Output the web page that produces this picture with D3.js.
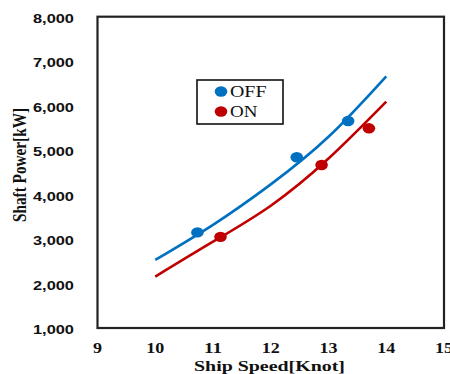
<!DOCTYPE html>
<html>
<head>
<meta charset="utf-8">
<script src="https://cdn.jsdelivr.net/npm/d3@7"></script>
<style>
  html, body { margin: 0; padding: 0; background: #fff; }
  svg { display: block; }
</style>
</head>
<body>
<script>
// Ship speed [knot] vs shaft power [kW], with the device OFF and ON

// fitted trend curves, sampled along the speed axis
const curveSpeed = [10, 11, 12, 13, 14];
const offCurvePower = [2530, 3320, 4230, 5300, 6660];
const onCurvePower  = [2155, 2940, 3750, 4810, 6090];

// measured points
const offSpeed = [10.73, 12.45, 13.34];
const offPower = [3150, 4840, 5655];
const onSpeed  = [11.13, 12.88, 13.70];
const onPower  = [3050, 4665, 5490];

// axis ticks
const xTicks = [9, 10, 11, 12, 13, 14, 15];
const yTicks = [1000, 2000, 3000, 4000, 5000, 6000, 7000, 8000];

const seriesNames = ["OFF", "ON"];
const seriesColors = ["#0070C0", "#C00000"];

const W = 450, H = 374;
const svg = d3.select("body").append("svg").attr("width", W).attr("height", H);

const x = d3.scaleLinear().domain([9, 15]).range([97.5, 444]);
const y = d3.scaleLinear().domain([1000, 8000]).range([328, 16.7]);

// y tick labels
const fmt = d3.format(",");
svg.append("g").selectAll("text").data(yTicks).join("text")
  .attr("x", 74).attr("y", d => y(d) + 1.5)
  .attr("dy", "0.36em")
  .attr("text-anchor", "end")
  .attr("font-family", "'Liberation Sans', Arial, sans-serif")
  .attr("font-weight", "bold").attr("font-size", 13)
  .attr("fill", "#111")
  .attr("textLength", 41).attr("lengthAdjust", "spacingAndGlyphs")
  .text(d => fmt(d));

// x tick labels
svg.append("g").selectAll("text").data(xTicks).join("text")
  .attr("x", d => x(d)).attr("y", 352.8)
  .attr("text-anchor", "middle")
  .attr("font-family", "'Liberation Serif', 'Times New Roman', serif")
  .attr("font-weight", "bold").attr("font-size", 14)
  .attr("fill", "#111")
  .attr("textLength", d => String(d).length * 9).attr("lengthAdjust", "spacingAndGlyphs")
  .text(d => d);

// axis titles
svg.append("text")
  .attr("x", 269.5).attr("y", 371)
  .attr("text-anchor", "middle")
  .attr("font-family", "'Liberation Serif', 'Times New Roman', serif")
  .attr("font-weight", "bold").attr("font-size", 14)
  .attr("fill", "#111")
  .attr("textLength", 151).attr("lengthAdjust", "spacingAndGlyphs")
  .text("Ship Speed[Knot]");

svg.append("text")
  .attr("transform", "translate(26,165) rotate(-90)")
  .attr("text-anchor", "middle")
  .attr("font-family", "'Liberation Serif', 'Times New Roman', serif")
  .attr("font-weight", "bold").attr("font-size", 18)
  .attr("fill", "#111")
  .attr("textLength", 114).attr("lengthAdjust", "spacingAndGlyphs")
  .text("Shaft Power[kW]");

// plot frame
svg.append("rect")
  .attr("x", x(9)).attr("y", y(8000))
  .attr("width", x(15) - x(9)).attr("height", y(1000) - y(8000))
  .attr("fill", "none").attr("stroke", "#222").attr("stroke-width", 2.2);

// trend curves
const line = d3.line().x(d => x(d[0])).y(d => y(d[1])).curve(d3.curveNatural);
const curves = [
  curveSpeed.map((s, i) => [s, offCurvePower[i]]),
  curveSpeed.map((s, i) => [s, onCurvePower[i]])
];
svg.append("g").selectAll("path").data(curves).join("path")
  .attr("d", line)
  .attr("fill", "none")
  .attr("stroke", (d, i) => seriesColors[i])
  .attr("stroke-width", 2.6);

// measured points
const points = [
  offSpeed.map((s, i) => [s, offPower[i]]),
  onSpeed.map((s, i) => [s, onPower[i]])
];
points.forEach((pts, k) => {
  svg.append("g").selectAll("ellipse").data(pts).join("ellipse")
    .attr("cx", d => x(d[0])).attr("cy", d => y(d[1]))
    .attr("rx", 6.3).attr("ry", 5.2)
    .attr("fill", seriesColors[k]);
});

// legend
const legend = svg.append("g");
legend.append("rect")
  .attr("x", 197).attr("y", 80).attr("width", 86).attr("height", 44)
  .attr("fill", "#fff").attr("stroke", "#111").attr("stroke-width", 1.6);
seriesNames.forEach((name, i) => {
  const cy = 91.5 + i * 20;
  legend.append("ellipse")
    .attr("cx", 221).attr("cy", cy).attr("rx", 6.3).attr("ry", 5.2)
    .attr("fill", seriesColors[i]);
  legend.append("text")
    .attr("x", 230).attr("y", cy + 5.8)
    .attr("font-family", "'Liberation Serif', 'Times New Roman', serif")
    .attr("font-size", 17).attr("fill", "#111")
    .attr("textLength", name.length === 3 ? 36.5 : 27.5)
    .attr("lengthAdjust", "spacingAndGlyphs")
    .text(name);
});
</script>
</body>
</html>
